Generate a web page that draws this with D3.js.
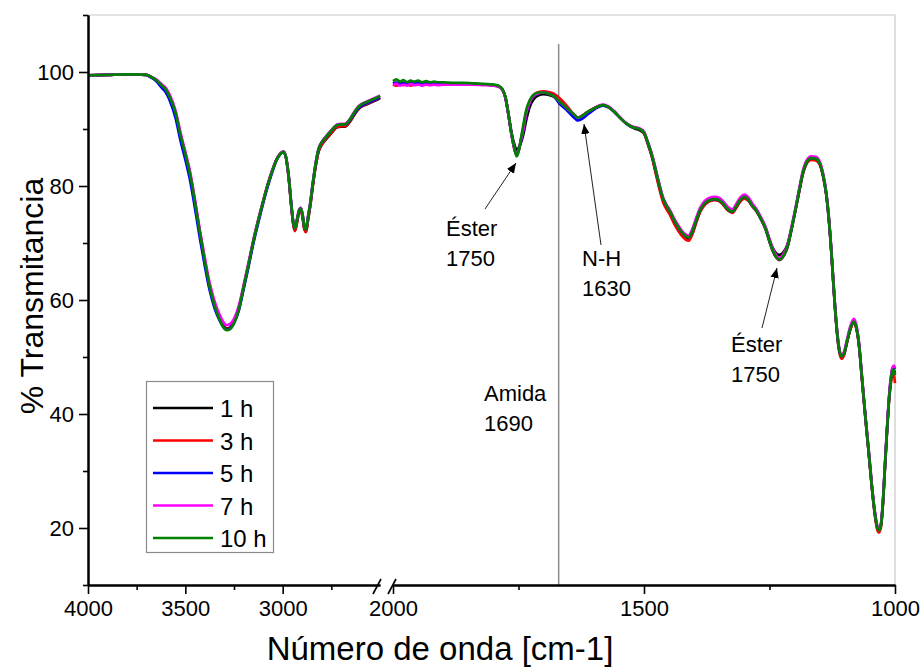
<!DOCTYPE html>
<html>
<head>
<meta charset="utf-8">
<script src="https://cdn.jsdelivr.net/npm/d3@7"></script>
<style>
  body { margin: 0; background: #fff; }
  svg { display: block; }
  text { font-family: "Liberation Sans", Arial, sans-serif; fill: #000; }
</style>
</head>
<body>
<svg id="chart" width="924" height="669"></svg>
<script>
// FTIR spectra, % transmittance vs wavenumber, broken x axis (4000-2500 | 2000-1000)

const seriesNames  = ["1 h", "3 h", "5 h", "7 h", "10 h"];
const seriesColors = ["#000000", "#ff0000", "#0000ff", "#ff00ff", "#008000"];

const yTicksMajor = [20, 40, 60, 80, 100];
const yTicksMinor = [10, 30, 50, 70, 90, 110];
const xLeftTicksMajor  = [4000, 3500, 3000];
const xLeftTicksMinor  = [3750, 3250, 2750];
const xRightTicksMajor = [2000, 1500, 1000];
const xRightTicksMinor = [1750, 1250];

// wavenumbers of the high-frequency segment
const waveLeft = [
  4000, 3900, 3800, 3750, 3700, 3680, 3650, 3620, 3600, 3580,
  3550, 3525, 3500, 3475, 3450, 3425, 3400, 3375, 3350, 3325,
  3300, 3288, 3270, 3250, 3225, 3200, 3175, 3150, 3125, 3100,
  3075, 3050, 3030, 3010, 2997, 2985, 2970, 2955, 2945, 2937,
  2928, 2915, 2907, 2898, 2888, 2880, 2870, 2858, 2845, 2830,
  2815, 2800, 2780, 2760, 2740, 2720, 2700, 2680, 2665, 2650,
  2630, 2610, 2590, 2570, 2550, 2530, 2510, 2500
];

const t1hLeft = [
  99.4, 99.5, 99.6, 99.6, 99.5, 99.2, 98.6, 97.6, 96.9, 95.6,
  92.8, 88.9, 85.6, 81.9, 77.0, 71.7, 66.8, 62.3, 59.1, 56.8,
  55.3, 55.0, 55.2, 56.2, 58.6, 62.4, 66.3, 70.4, 74.0, 77.3,
  80.4, 83.0, 84.7, 85.7, 86.0, 85.3, 81.8, 76.2, 73.2, 72.2,
  73.4, 75.5, 75.8, 74.6, 72.4, 72.0, 74.0, 76.6, 80.1, 83.6,
  86.1, 87.2, 88.1, 88.9, 89.7, 90.3, 90.4, 90.4, 90.8, 91.5,
  92.6, 93.5, 94.0, 94.3, 94.6, 94.9, 95.2, 95.4
];
const t3hLeft = [
  99.4, 99.5, 99.6, 99.6, 99.5, 99.2, 98.6, 97.6, 96.9, 95.6,
  92.8, 88.9, 85.6, 81.9, 77.0, 71.7, 66.8, 62.3, 59.0, 56.7,
  55.2, 54.9, 55.1, 56.1, 58.5, 62.3, 66.3, 70.4, 74.0, 77.3,
  80.4, 83.0, 84.7, 85.7, 86.0, 85.3, 81.8, 76.2, 73.2, 72.1,
  73.3, 75.5, 75.8, 74.6, 72.3, 71.9, 74.0, 76.6, 80.1, 83.6,
  86.1, 87.2, 88.2, 89.0, 89.8, 90.4, 90.5, 90.5, 90.9, 91.6,
  92.7, 93.6, 94.1, 94.4, 94.7, 95.0, 95.3, 95.5
];
const t5hLeft = [
  99.4, 99.5, 99.6, 99.6, 99.5, 99.1, 98.4, 97.2, 96.4, 95.0,
  91.9, 88.0, 84.6, 80.9, 76.0, 70.8, 66.0, 61.7, 58.6, 56.5,
  55.1, 54.8, 55.0, 56.0, 58.2, 62.0, 65.9, 70.0, 73.6, 77.0,
  80.1, 82.8, 84.6, 85.7, 86.0, 85.3, 82.0, 76.5, 73.5, 72.6,
  73.8, 75.8, 76.1, 75.0, 72.8, 72.4, 74.5, 77.0, 80.5, 84.0,
  86.5, 87.6, 88.5, 89.3, 90.1, 90.7, 90.8, 90.8, 91.1, 91.8,
  92.8, 93.7, 94.2, 94.5, 94.8, 95.1, 95.4, 95.6
];
const t7hLeft = [
  99.4, 99.5, 99.6, 99.6, 99.5, 99.2, 98.7, 97.8, 97.2, 96.0,
  93.2, 89.4, 86.0, 82.4, 77.5, 72.2, 67.4, 63.0, 59.8, 57.5,
  55.9, 55.6, 55.8, 56.7, 59.0, 62.7, 66.6, 70.6, 74.2, 77.4,
  80.5, 83.1, 84.8, 85.8, 86.1, 85.4, 82.1, 76.6, 73.6, 72.7,
  73.9, 75.9, 76.2, 75.1, 72.9, 72.5, 74.6, 77.1, 80.6, 84.1,
  86.6, 87.7, 88.6, 89.4, 90.2, 90.8, 90.9, 90.9, 91.3, 92.0,
  93.1, 94.0, 94.5, 94.8, 95.1, 95.4, 95.7, 95.9
];
const t10hLeft = [
  99.4, 99.5, 99.6, 99.6, 99.5, 99.2, 98.6, 97.6, 96.9, 95.6,
  92.8, 88.9, 85.6, 81.9, 77.0, 71.7, 66.8, 62.3, 59.0, 56.6,
  55.0, 54.7, 54.9, 55.9, 58.4, 62.3, 66.3, 70.4, 74.0, 77.3,
  80.4, 83.0, 84.7, 85.7, 86.0, 85.3, 82.0, 76.5, 73.5, 72.6,
  73.8, 75.8, 76.1, 75.0, 72.8, 72.4, 74.5, 77.0, 80.5, 84.0,
  86.5, 87.6, 88.5, 89.3, 90.1, 90.7, 90.8, 90.8, 91.2, 91.9,
  93.0, 93.9, 94.4, 94.7, 95.0, 95.3, 95.6, 95.8
];

// wavenumbers of the fingerprint segment
const waveRight = [
  2000, 1993, 1986, 1979, 1972, 1965, 1958, 1950, 1942, 1934,
  1926, 1918, 1910, 1900, 1880, 1860, 1840, 1820, 1800, 1790,
  1782, 1776, 1770, 1764, 1758, 1754, 1749, 1745, 1740, 1735,
  1728, 1720, 1710, 1700, 1690, 1680, 1668, 1655, 1645, 1638,
  1632, 1625, 1612, 1598, 1582, 1570, 1559, 1548, 1536, 1522,
  1509, 1500, 1493, 1483, 1476, 1469, 1462, 1455, 1448, 1440,
  1432, 1424, 1417, 1411, 1404, 1396, 1388, 1379, 1370, 1359,
  1350, 1343, 1335, 1324, 1316, 1308, 1300, 1292, 1284, 1277,
  1268, 1257, 1250, 1244, 1237, 1230, 1222, 1214, 1206, 1197,
  1190, 1184, 1176, 1167, 1158, 1150, 1143, 1137, 1132, 1127,
  1122, 1117, 1112, 1107, 1102, 1096, 1089, 1082, 1077, 1072,
  1066, 1059, 1052, 1046, 1040, 1035, 1032, 1028, 1024, 1020,
  1016, 1012, 1008, 1005, 1002, 1000
];

const t1hRight = [
  98.0, 98.1, 97.9, 98.1, 97.9, 98.0, 98.0, 98.1, 97.9, 98.0,
  98.0, 98.0, 97.9, 98.0, 97.9, 97.9, 97.9, 97.8, 97.7, 97.5,
  96.9, 95.5, 92.6, 89.4, 87.2, 86.3, 86.8, 87.6, 89.2, 91.4,
  93.8, 95.2, 95.9, 96.1, 96.0, 95.7, 94.8, 93.8, 93.0, 92.4,
  92.0, 92.2, 93.0, 93.7, 94.2, 93.8, 93.0, 92.0, 91.0, 90.2,
  89.8, 89.2, 87.6, 84.8, 82.2, 79.7, 77.5, 76.2, 75.1, 73.6,
  72.4, 71.4, 70.8, 70.6, 71.6, 73.7, 75.6, 76.8, 77.4, 77.6,
  77.4, 76.9, 76.0, 75.4, 76.4, 77.5, 78.0, 77.5, 76.5, 75.8,
  74.5, 72.5, 70.6, 69.2, 68.2, 67.9, 68.4, 69.8, 72.7, 76.4,
  79.5, 82.0, 84.0, 84.8, 84.7, 83.9, 81.7, 78.6, 74.4, 68.7,
  61.9, 55.9, 51.7, 50.0, 50.4, 52.5, 54.9, 56.1, 55.1, 52.3,
  46.4, 39.4, 32.9, 27.1, 22.4, 19.9, 19.5, 20.4, 24.4, 30.7,
  36.9, 42.4, 46.0, 47.6, 47.7, 47.2
];
const t3hRight = [
  97.8, 97.6, 97.9, 97.7, 98.0, 97.6, 97.8, 97.9, 97.7, 97.8,
  97.9, 97.8, 97.8, 97.9, 97.9, 97.9, 97.9, 97.8, 97.7, 97.5,
  96.9, 95.5, 92.5, 89.1, 86.4, 85.5, 86.5, 88.2, 90.3, 92.8,
  94.7, 95.9, 96.5, 96.6, 96.5, 96.2, 95.4, 94.2, 93.1, 92.4,
  92.0, 92.2, 93.0, 93.7, 94.2, 93.8, 93.0, 92.0, 91.0, 90.3,
  90.0, 89.3, 87.6, 84.7, 82.0, 79.4, 77.2, 75.9, 74.9, 73.4,
  72.2, 71.2, 70.6, 70.4, 71.5, 73.6, 75.5, 76.7, 77.3, 77.5,
  77.3, 76.8, 75.9, 75.3, 76.2, 77.3, 77.8, 77.4, 76.4, 75.7,
  74.3, 72.2, 70.2, 68.7, 67.5, 67.0, 67.7, 69.3, 72.4, 76.3,
  79.4, 82.0, 84.0, 84.6, 84.5, 83.8, 81.6, 78.5, 74.3, 68.6,
  61.8, 55.7, 51.4, 49.7, 50.2, 52.4, 54.8, 56.0, 55.0, 52.2,
  46.3, 39.3, 32.8, 27.0, 22.2, 19.6, 19.2, 20.2, 24.3, 30.6,
  36.8, 42.2, 45.6, 47.3, 46.8, 45.4
];
const t5hRight = [
  98.0, 98.1, 97.9, 98.0, 98.1, 97.9, 98.0, 98.1, 98.0, 97.9,
  98.0, 98.1, 98.0, 98.0, 98.0, 98.0, 97.9, 97.8, 97.7, 97.5,
  96.9, 95.5, 92.5, 89.1, 86.5, 85.6, 86.5, 88.0, 90.0, 92.6,
  94.6, 95.8, 96.3, 96.4, 96.2, 95.8, 94.4, 93.4, 92.5, 91.9,
  91.5, 91.7, 92.6, 93.5, 94.1, 93.8, 93.0, 92.0, 91.0, 90.3,
  90.0, 89.4, 87.8, 85.0, 82.5, 80.0, 77.8, 76.5, 75.5, 74.0,
  72.8, 71.8, 71.2, 71.0, 72.0, 74.0, 75.8, 77.0, 77.5, 77.7,
  77.5, 77.0, 76.1, 75.5, 76.5, 77.6, 78.1, 77.6, 76.5, 75.8,
  74.4, 72.3, 70.3, 68.8, 67.6, 67.1, 67.8, 69.4, 72.5, 76.4,
  79.6, 82.2, 84.2, 84.9, 84.8, 84.0, 81.8, 78.7, 74.5, 68.8,
  62.0, 56.0, 51.8, 50.1, 50.5, 52.6, 55.0, 56.3, 55.3, 52.5,
  46.6, 39.6, 33.1, 27.3, 22.6, 20.1, 19.7, 20.6, 24.6, 30.9,
  37.1, 42.7, 46.4, 48.0, 48.2, 47.9
];
const t7hRight = [
  97.7, 97.9, 97.6, 97.8, 97.6, 97.9, 97.7, 97.8, 97.6, 97.8,
  97.7, 97.8, 97.7, 97.8, 97.8, 97.8, 97.8, 97.7, 97.6, 97.4,
  96.9, 95.5, 92.5, 89.1, 86.5, 85.6, 86.6, 88.1, 90.1, 92.6,
  94.6, 95.8, 96.3, 96.4, 96.2, 95.8, 94.8, 93.8, 93.0, 92.4,
  92.0, 92.2, 93.0, 93.7, 94.3, 93.9, 93.1, 92.1, 91.1, 90.4,
  90.1, 89.5, 87.9, 85.2, 82.7, 80.2, 78.0, 76.7, 75.7, 74.3,
  73.1, 72.1, 71.5, 71.3, 72.4, 74.4, 76.2, 77.4, 77.9, 78.1,
  77.9, 77.4, 76.5, 75.9, 76.9, 78.0, 78.5, 78.0, 76.9, 76.1,
  74.7, 72.6, 70.6, 69.1, 67.9, 67.4, 68.1, 69.7, 72.8, 76.7,
  79.9, 82.5, 84.5, 85.2, 85.1, 84.3, 82.1, 79.0, 74.8, 69.1,
  62.3, 56.3, 52.1, 50.4, 50.8, 52.9, 55.4, 56.7, 55.6, 52.7,
  46.8, 39.8, 33.3, 27.5, 22.8, 20.3, 19.9, 20.8, 24.8, 31.1,
  37.3, 42.9, 46.6, 48.2, 48.5, 48.1
];
const t10hRight = [
  98.4, 98.7, 98.3, 98.6, 98.2, 98.5, 98.3, 98.5, 98.2, 98.4,
  98.2, 98.3, 98.2, 98.2, 98.1, 98.1, 98.0, 97.9, 97.8, 97.6,
  97.0, 95.6, 92.6, 89.2, 86.6, 85.2, 86.3, 88.4, 90.9, 93.2,
  95.0, 96.0, 96.4, 96.4, 96.2, 95.8, 94.8, 93.8, 93.0, 92.4,
  92.0, 92.2, 93.0, 93.7, 94.2, 93.8, 93.0, 92.0, 91.0, 90.3,
  90.0, 89.4, 87.8, 85.0, 82.5, 80.0, 77.8, 76.5, 75.5, 74.0,
  72.8, 71.8, 71.2, 71.0, 72.0, 74.0, 75.8, 77.0, 77.5, 77.7,
  77.5, 77.0, 76.1, 75.5, 76.5, 77.6, 78.1, 77.6, 76.5, 75.8,
  74.4, 72.3, 70.3, 68.8, 67.6, 67.1, 67.8, 69.4, 72.5, 76.4,
  79.6, 82.2, 84.2, 84.9, 84.8, 84.0, 81.8, 78.7, 74.5, 68.8,
  62.0, 56.0, 51.8, 50.1, 50.5, 52.6, 55.0, 56.2, 55.2, 52.4,
  46.5, 39.5, 33.0, 27.2, 22.5, 20.0, 19.6, 20.5, 24.5, 30.8,
  37.0, 42.5, 46.0, 47.7, 47.8, 46.8
];

const leftValues  = [t1hLeft, t3hLeft, t5hLeft, t7hLeft, t10hLeft];
const rightValues = [t1hRight, t3hRight, t5hRight, t7hRight, t10hRight];

// band marker and annotations
const amideLine = 1670;
const annotations = [
  { lines: ["Éster", "1750"], x: 446, y: 236, from: [485, 209], to: [516, 163] },
  { lines: ["N-H", "1630"],   x: 582, y: 266, from: [601, 245], to: [584, 124] },
  { lines: ["Amida", "1690"], x: 484, y: 401, from: null, to: null },
  { lines: ["Éster", "1750"], x: 731, y: 352, from: [762, 328], to: [777, 268] }
];

// ---------------------------------------------------------------
const svg = d3.select("#chart");
const plot = { left: 88, right: 895, top: 15, bottom: 585 };

const y  = d3.scaleLinear().domain([10, 110]).range([plot.bottom, plot.top]);
const xL = d3.scaleLinear().domain([4000, 2500]).range([plot.left, 380]);
const xR = d3.scaleLinear().domain([2000, 1000]).range([393, plot.right]);

svg.append("rect").attr("width", 924).attr("height", 669).attr("fill", "#fff");

// light frame on top and right
svg.append("path")
  .attr("d", `M${plot.left},${plot.top}H${plot.right}V${plot.bottom}`)
  .attr("fill", "none").attr("stroke", "#c9c9c9").attr("stroke-width", 1.2);

// vertical amide marker
svg.append("line")
  .attr("x1", xR(amideLine)).attr("x2", xR(amideLine))
  .attr("y1", 44).attr("y2", plot.bottom)
  .attr("stroke", "#8c8c8c").attr("stroke-width", 1.5);

// spectra
function drawSegment(wave, valuesList, xs) {
  const line = d3.line()
    .x(d => xs(d[0])).y(d => y(d[1]))
    .curve(d3.curveMonotoneX);
  valuesList.forEach((vals, i) => {
    const pts = wave.map((w, k) => [w, vals[k]]);
    svg.append("path")
      .attr("d", line(pts))
      .attr("fill", "none")
      .attr("stroke", seriesColors[i])
      .attr("stroke-width", 2.7)
      .attr("stroke-linejoin", "round");
  });
}
drawSegment(waveLeft, leftValues, xL);
drawSegment(waveRight, rightValues, xR);

// axes
const fmt = d3.format("d");
function styleAxis(g) {
  g.selectAll("path.domain").attr("stroke", "#000").attr("stroke-width", 2);
  g.selectAll(".tick line").attr("stroke", "#000").attr("stroke-width", 1.6);
  g.selectAll(".tick text")
    .attr("font-size", 22)
    .attr("font-family", "'Liberation Sans', Arial, sans-serif")
    .attr("fill", "#000");
}

const yAxisMajor = svg.append("g").attr("transform", `translate(${plot.left},0)`)
  .call(d3.axisLeft(y).tickValues(yTicksMajor).tickFormat(fmt).tickSize(9).tickSizeOuter(0).tickPadding(5));
styleAxis(yAxisMajor);
const yAxisMinor = svg.append("g").attr("transform", `translate(${plot.left},0)`)
  .call(d3.axisLeft(y).tickValues(yTicksMinor).tickSize(5).tickSizeOuter(0).tickFormat(""));
styleAxis(yAxisMinor);

[[xL, xLeftTicksMajor, xLeftTicksMinor], [xR, xRightTicksMajor, xRightTicksMinor]].forEach(([xs, maj, min]) => {
  const gMaj = svg.append("g").attr("transform", `translate(0,${plot.bottom})`)
    .call(d3.axisBottom(xs).tickValues(maj).tickFormat(fmt).tickSize(9).tickSizeOuter(0).tickPadding(6));
  styleAxis(gMaj);
  const gMin = svg.append("g").attr("transform", `translate(0,${plot.bottom})`)
    .call(d3.axisBottom(xs).tickValues(min).tickSize(5).tickSizeOuter(0).tickFormat(""));
  styleAxis(gMin);
});

// axis break marks
[xL.range()[1] - 3, xR.range()[0] - 1].forEach(cx => {
  svg.append("line")
    .attr("x1", cx - 4).attr("y1", plot.bottom + 9)
    .attr("x2", cx + 4).attr("y2", plot.bottom - 6)
    .attr("stroke", "#000").attr("stroke-width", 1.6);
});

// axis titles
svg.append("text")
  .attr("transform", "translate(43,296) rotate(-90)")
  .attr("text-anchor", "middle")
  .attr("font-size", 32)
  .text("% Transmitancia");
svg.append("text")
  .attr("x", 440).attr("y", 660)
  .attr("text-anchor", "middle")
  .attr("font-size", 33)
  .text("Número de onda [cm-1]");

// annotations
const defs = svg.append("defs");
defs.append("marker")
  .attr("id", "arrowhead")
  .attr("viewBox", "0 0 10 10").attr("refX", 10).attr("refY", 5)
  .attr("markerWidth", 10).attr("markerHeight", 10)
  .attr("markerUnits", "userSpaceOnUse")
  .attr("orient", "auto")
  .append("path").attr("d", "M0,0.8L10,5L0,9.2Z").attr("fill", "#000");

annotations.forEach(a => {
  if (a.from) {
    svg.append("line")
      .attr("x1", a.from[0]).attr("y1", a.from[1])
      .attr("x2", a.to[0]).attr("y2", a.to[1])
      .attr("stroke", "#222").attr("stroke-width", 1)
      .attr("marker-end", "url(#arrowhead)");
  }
  a.lines.forEach((t, i) => {
    svg.append("text")
      .attr("x", a.x).attr("y", a.y + i * 30)
      .attr("font-size", 22)
      .text(t);
  });
});

// legend
const legend = svg.append("g");
legend.append("rect")
  .attr("x", 146.5).attr("y", 381.5).attr("width", 127).attr("height", 171)
  .attr("fill", "#fff").attr("stroke", "#8a8a8a").attr("stroke-width", 1.2);
seriesNames.forEach((name, i) => {
  const ly = 408 + i * 32.5;
  legend.append("line")
    .attr("x1", 153).attr("x2", 213).attr("y1", ly).attr("y2", ly)
    .attr("stroke", seriesColors[i]).attr("stroke-width", 2.4);
  legend.append("text")
    .attr("x", 220).attr("y", ly + 9)
    .attr("font-size", 24)
    .text(name);
});
</script>
</body>
</html>
